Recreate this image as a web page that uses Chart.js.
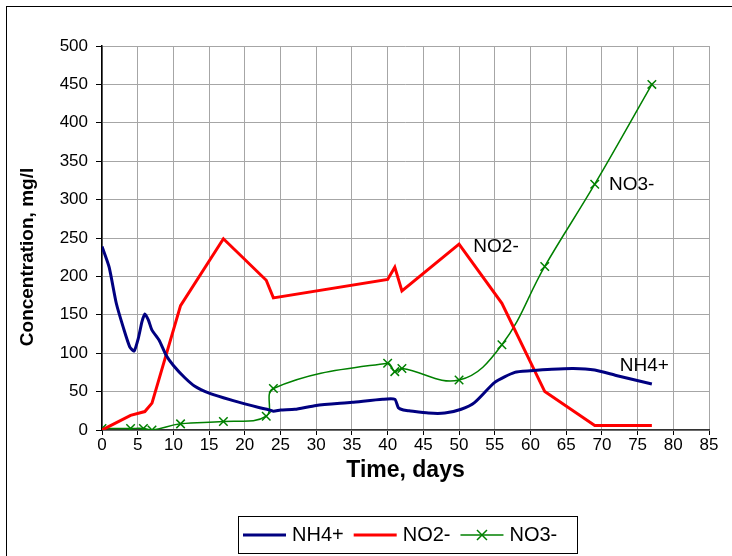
<!DOCTYPE html>
<html>
<head>
<meta charset="utf-8">
<script src="https://cdn.jsdelivr.net/npm/chart.js@4/dist/chart.umd.min.js"></script>
<style>
  html, body { margin: 0; padding: 0; background: #fff; }
  #chart { display: block; }
</style>
</head>
<body>
<canvas id="chart" width="732" height="556"></canvas>
<script>
// values
const nh4Days = [0, 1, 2, 3, 3.9, 4.5, 5.1, 5.6, 6, 6.5, 7, 8, 9, 10, 11.6, 13, 15, 17, 20, 22.1, 23.1, 24, 25, 27, 30, 35, 39.3, 41, 41.5, 42.2, 43, 45.7, 48, 50.3, 52.2, 55, 57.8, 60, 63, 66, 69, 72, 77];
const nh4Vals = [239, 212, 165, 133, 108, 103, 120, 141, 151, 143, 130, 117, 97, 84, 68, 57, 48, 42, 34, 29, 27, 24.5, 26, 27, 32, 36, 40, 40, 29, 26, 25, 22, 22, 27, 36, 62, 75, 77, 79, 80, 78, 71, 60];

const no2Days = [0, 4, 6, 7, 11, 17, 23, 24, 40, 41, 42, 50, 56, 62, 69, 77];
const no2Vals = [0, 19, 24, 35, 162, 249, 195, 172, 196, 212, 181, 242, 165, 50, 6, 6];

const no3Days = [0, 4, 5.8, 7, 11, 17, 23, 24, 40, 41, 42, 50, 56, 62, 69, 77];
const no3Vals = [2, 2, 2, 0, 8, 11, 18, 54, 87, 76, 80, 65, 111, 213, 320, 450];

const seriesNames = ['NH4+', 'NO2-', 'NO3-'];
const yTitle = 'Concentration, mg/l';

// text labels next to the curves: [text, day, value]
const curveLabels = [
  ['NO2-', 52, 239],
  ['NO3-', 71, 319],
  ['NH4+', 72.5, 84]
];

const FONT = '"Liberation Sans", Arial, sans-serif';

function pairs(xs, ys) {
  return xs.map((x, i) => ({ x: x, y: ys[i] }));
}

const frameAndLabels = {
  id: 'frameAndLabels',
  beforeDraw(chart) {
    const ctx = chart.ctx;
    ctx.save();
    ctx.fillStyle = '#fff';
    ctx.fillRect(0, 0, chart.width, chart.height);
    ctx.strokeStyle = '#000';
    ctx.lineWidth = 1;
    ctx.strokeRect(6.5, 6.5, 760, 600);
    ctx.restore();
  },
  afterDraw(chart) {
    const ctx = chart.ctx;
    const xs = chart.scales.x, ys = chart.scales.y;
    ctx.save();
    ctx.fillStyle = '#000';
    ctx.font = '19px ' + FONT;
    ctx.textBaseline = 'middle';
    ctx.textAlign = 'left';
    curveLabels.forEach(([t, d, v]) => {
      ctx.fillText(t, xs.getPixelForValue(d), ys.getPixelForValue(v));
    });

    // y axis title, sits a bit below the middle of the axis in the original
    ctx.save();
    ctx.translate(28, 257);
    ctx.rotate(-Math.PI / 2);
    ctx.textAlign = 'center';
    ctx.font = 'bold 19px ' + FONT;
    ctx.fillText(yTitle, 0, 0);
    ctx.restore();

    // legend box
    const bx = 238, by = 516, bw = 339, bh = 37;
    ctx.font = '20px ' + FONT;
    ctx.fillStyle = '#fff';
    ctx.fillRect(bx, by, bw, bh);
    ctx.strokeStyle = '#000';
    ctx.lineWidth = 1;
    ctx.strokeRect(bx + 0.5, by + 0.5, bw, bh);
    let cx = bx + 5;
    const cy = by + bh / 2 + 0.5;
    chart.data.datasets.forEach(ds => {
      ctx.strokeStyle = ds.borderColor;
      ctx.lineWidth = ds.borderWidth;
      ctx.beginPath();
      ctx.moveTo(cx, cy);
      ctx.lineTo(cx + 43, cy);
      ctx.stroke();
      if (ds.pointStyle === 'crossRot') {
        ctx.lineWidth = 1.5;
        ctx.beginPath();
        ctx.moveTo(cx + 21.5 - 5, cy - 5);
        ctx.lineTo(cx + 21.5 + 5, cy + 5);
        ctx.moveTo(cx + 21.5 + 5, cy - 5);
        ctx.lineTo(cx + 21.5 - 5, cy + 5);
        ctx.stroke();
      }
      cx += 49;
      ctx.fillStyle = '#000';
      ctx.fillText(ds.label, cx, cy);
      cx += ctx.measureText(ds.label).width + 10;
    });
    ctx.restore();
  }
};

new Chart(document.getElementById('chart'), {
  type: 'line',
  data: {
    datasets: [
      {
        label: seriesNames[0],
        data: pairs(nh4Days, nh4Vals),
        borderColor: '#000080',
        borderWidth: 3,
        pointRadius: 0,
        tension: 0.2,
        fill: false
      },
      {
        label: seriesNames[1],
        data: pairs(no2Days, no2Vals),
        borderColor: '#ff0000',
        borderWidth: 3,
        pointRadius: 0,
        tension: 0,
        fill: false
      },
      {
        label: seriesNames[2],
        data: pairs(no3Days, no3Vals),
        borderColor: '#008000',
        backgroundColor: '#008000',
        borderWidth: 1.5,
        pointStyle: 'crossRot',
        pointRadius: 6,
        pointBorderWidth: 1.5,
        pointBorderColor: '#008000',
        tension: 0.4,
        fill: false
      }
    ]
  },
  options: {
    responsive: false,
    animation: false,
    layout: { padding: { left: 0, right: 23, top: 46, bottom: 72 } },
    plugins: {
      legend: { display: false },
      tooltip: { enabled: false }
    },
    scales: {
      x: {
        type: 'linear',
        min: 0,
        max: 85,
        afterFit: s => { s.height = 54; },
        ticks: {
          stepSize: 5,
          color: '#000',
          padding: 0,
          maxRotation: 0,
          font: { family: FONT, size: 17 }
        },
        grid: { color: '#a6a6a6', tickColor: '#000', tickLength: 5, lineWidth: 1 },
        border: { color: '#333', width: 1.5 },
        title: {
          display: true,
          text: 'Time, days',
          color: '#000',
          padding: { top: 0, bottom: 0 },
          font: { family: FONT, size: 23, weight: 'bold' }
        }
      },
      y: {
        min: 0,
        max: 500,
        afterFit: s => { s.width = 102; },
        ticks: {
          stepSize: 50,
          color: '#000',
          padding: 8,
          font: { family: FONT, size: 17 }
        },
        grid: { color: '#a6a6a6', tickColor: '#000', tickLength: 6, lineWidth: 1 },
        border: { color: '#000', width: 1.5 },
        title: { display: false }
      }
    }
  },
  plugins: [frameAndLabels]
});
</script>
</body>
</html>
